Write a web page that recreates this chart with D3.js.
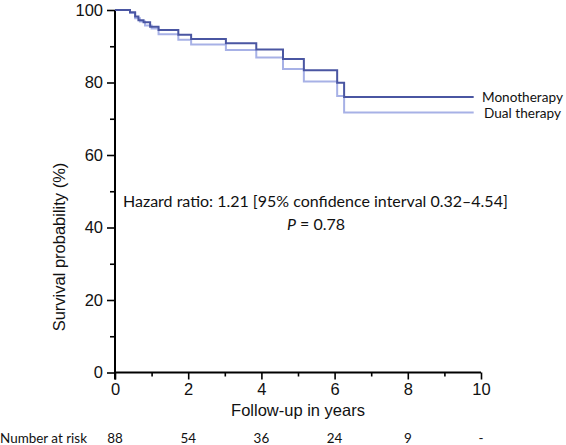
<!DOCTYPE html>
<html><head><meta charset="utf-8">
<script src="https://cdn.jsdelivr.net/npm/d3@7"></script>
<style>body{margin:0;background:#fff}svg{display:block}</style>
</head><body><svg id="c" width="566" height="445"></svg>
<script>
const monoTimes = [0, 0.41, 0.55, 0.64, 0.78, 0.96, 1.19, 1.73, 2.08, 3.03, 3.86, 4.59, 5.16, 6.07, 6.26, 9.8];
const monoSurv  = [100, 99.4, 98.2, 97.2, 96.6, 95.4, 94.5, 93.2, 92.0, 90.8, 89.1, 86.5, 83.4, 79.9, 76.0, 76.0];
const dualTimes = [0, 0.41, 0.55, 0.68, 0.82, 1.0, 1.19, 1.73, 2.08, 3.03, 3.86, 4.59, 5.16, 6.07, 6.26, 9.8];
const dualSurv  = [100, 99.2, 97.7, 96.8, 95.7, 94.9, 93.3, 91.8, 90.5, 89.0, 86.9, 83.7, 80.3, 76.3, 71.7, 71.7];
const seriesNames = ["Monotherapy", "Dual therapy"];
const xTicks = [0, 2, 4, 6, 8, 10];
const yTicks = [0, 20, 40, 60, 80, 100];
const atRiskTimes = [0, 2, 4, 6, 8, 10];
const atRisk = ["88", "54", "36", "24", "9", "-"];

const svg = d3.select("#c");
const x = d3.scaleLinear().domain([0, 10]).range([115, 481]);
const y = d3.scaleLinear().domain([0, 100]).range([372.5, 10]);
const sans = "'Liberation Sans', Arial, sans-serif";
const myriad = "Lato, 'Open Sans', sans-serif";
const ink = "#111";

function fit(sel, width, base) {
  const w = sel.node().getComputedTextLength();
  sel.attr("font-size", base * width / w);
  return base * width / w;
}

// axes
const xAxis = d3.axisBottom(x).tickValues(d3.range(0, 11, 1)).tickSize(7).tickPadding(3)
  .tickFormat(d => xTicks.includes(d) ? d : "");
const gx = svg.append("g").attr("transform", `translate(0,${y(0)})`).call(xAxis);
gx.selectAll(".tick line").attr("y2", d => xTicks.includes(d) ? 7 : 4);
const yAxis = d3.axisLeft(y).tickValues(d3.range(0, 101, 10)).tickSize(8).tickPadding(4)
  .tickFormat(d => yTicks.includes(d) ? d : "");
const gy = svg.append("g").attr("transform", `translate(${x(0)},0)`).call(yAxis);
gy.selectAll(".tick line").attr("x2", d => yTicks.includes(d) ? -8 : -5);
[gx, gy].forEach(g => {
  g.select(".domain").attr("stroke", "#000").attr("stroke-width", 2);
  g.selectAll(".tick line").attr("stroke", "#000").attr("stroke-width", 1.6);
  g.selectAll("text").attr("font-family", sans).attr("font-size", 16.5).attr("fill", ink);
});
gx.select(".domain").attr("d", `M${x(0)},0H${x(10)}`);
gy.select(".domain").attr("d", `M0,${y(0) + 7}V${y(100)}`);
gx.selectAll("text").attr("dy", "0.75em");

// curves
const line = d3.line().x(d => x(d[0])).y(d => y(d[1])).curve(d3.curveStepAfter);
const monoData = monoTimes.map((t, i) => [t, monoSurv[i]]);
const dualData = dualTimes.map((t, i) => [t, dualSurv[i]]);
svg.append("path").datum(dualData).attr("d", line).attr("fill", "none")
  .attr("stroke", "#a7b1e6").attr("stroke-width", 2);
svg.append("path").datum(monoData).attr("d", line).attr("fill", "none")
  .attr("stroke", "#4a56a2").attr("stroke-width", 2);

// legend labels
const l1 = svg.append("text").attr("x", 482).attr("y", y(monoSurv[monoSurv.length - 1]) + 5)
  .attr("font-family", myriad).attr("font-size", 15).attr("fill", ink).text(seriesNames[0]);
fit(l1, 81, 15);
const l2 = svg.append("text").attr("x", 484).attr("y", y(dualSurv[dualSurv.length - 1]) + 5)
  .attr("font-family", myriad).attr("font-size", 15).attr("fill", ink).text(seriesNames[1]);
fit(l2, 77, 15);

// annotations
const hr = svg.append("text").attr("x", 123).attr("y", 207)
  .attr("font-family", myriad).attr("font-size", 17).attr("fill", ink)
  .text("Hazard ratio: 1.21 [95% confidence interval 0.32\u20134.54]");
const fs = fit(hr, 385, 17);
const pt = svg.append("text").attr("x", 316).attr("y", 230).attr("text-anchor", "middle")
  .attr("font-family", myriad).attr("font-size", fs).attr("fill", ink);
pt.append("tspan").attr("font-style", "italic").text("P");
pt.append("tspan").text(" = 0.78");

// axis titles
svg.append("text").attr("transform", `translate(65,247) rotate(-90)`).attr("text-anchor", "middle")
  .attr("font-family", sans).attr("font-size", 16.5).attr("fill", ink).text("Survival probability (%)");
svg.append("text").attr("x", x(5)).attr("y", 416).attr("text-anchor", "middle")
  .attr("font-family", sans).attr("font-size", 16.5).attr("fill", ink).text("Follow-up in years");

// number at risk
const nr = svg.append("text").attr("x", 0).attr("y", 443)
  .attr("font-family", myriad).attr("font-size", 14).attr("fill", ink).text("Number at risk");
const fr = fit(nr, 87, 14);
svg.selectAll(".risk").data(atRisk).enter().append("text").attr("class", "risk")
  .attr("x", (d, i) => x(atRiskTimes[i])).attr("y", 443).attr("text-anchor", "middle")
  .attr("font-family", myriad).attr("font-size", fr).attr("fill", ink).text(d => d);
</script></body></html>
